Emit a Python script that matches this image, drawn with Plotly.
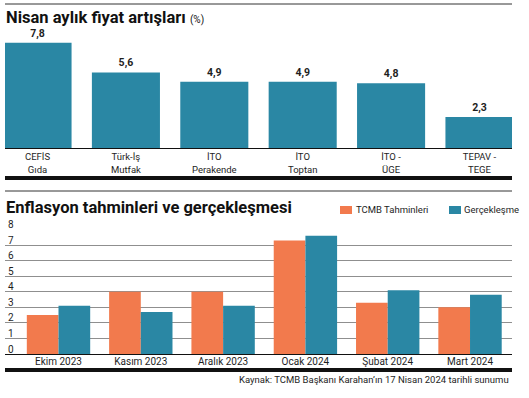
import plotly.graph_objects as go

# ---- data ----
top_categories = ["CEFİS<br>Gıda", "Türk-İş<br>Mutfak", "İTO<br>Perakende", "İTO<br>Toptan", "İTO -<br>ÜGE", "TEPAV -<br>TEGE"]
top_values = [7.8, 5.6, 4.9, 4.9, 4.8, 2.3]
top_labels = ["7,8", "5,6", "4,9", "4,9", "4,8", "2,3"]

months = ["Ekim 2023", "Kasım 2023", "Aralık 2023", "Ocak 2024", "Şubat 2024", "Mart 2024"]
tcmb_forecast = [2.5, 4.0, 4.0, 7.3, 3.3, 3.0]
realized = [3.1, 2.7, 3.1, 7.6, 4.1, 3.8]
y_ticks = [0, 1, 2, 3, 4, 5, 6, 7, 8]

# ---- styles ----
W, H = 529, 398
TEAL = "#2a87a4"
ORANGE = "#f27a4d"
FONT = "Roboto, Noto Sans, sans-serif"
TXT = "#1e1e1e"

def px_x(p):
    return p / W

def px_y(p):
    return 1 - p / H

fig = go.Figure()

fig.add_trace(go.Bar(
    x=top_categories, y=top_values, text=top_labels, textposition="outside",
    textfont=dict(family=FONT, size=10.5, color=TXT, weight="bold"), constraintext="none",
    cliponaxis=False, marker=dict(color=TEAL, line=dict(width=0)),
    xaxis="x", yaxis="y", showlegend=False, hoverinfo="skip",
))

fig.add_trace(go.Bar(
    x=months, y=tcmb_forecast, name="TCMB Tahminleri",
    marker=dict(color=ORANGE, line=dict(width=0)),
    xaxis="x2", yaxis="y2", showlegend=False,
))
fig.add_trace(go.Bar(
    x=months, y=realized, name="Gerçekleşme",
    marker=dict(color=TEAL, line=dict(width=0)),
    xaxis="x2", yaxis="y2", showlegend=False,
))

fig.update_layout(
    width=W, height=H, autosize=False,
    margin=dict(l=0, r=0, t=0, b=0, autoexpand=False),
    paper_bgcolor="white", plot_bgcolor="white",
    barmode="group", bargap=0.23, bargroupgap=0,
    font=dict(family=FONT, color=TXT),
    xaxis=dict(domain=[px_x(5), px_x(512)], range=[-0.368, 5.368], anchor="y",
               showline=True, linecolor="#111", linewidth=1, ticks="",
               tickfont=dict(family=FONT, size=9.5, color=TXT), showgrid=False,
               automargin=False, fixedrange=True),
    yaxis=dict(domain=[px_y(148), px_y(40)], range=[0, 8], anchor="x",
               visible=False, automargin=False, fixedrange=True),
    xaxis2=dict(domain=[px_x(5), px_x(512)], range=[-0.65, 5.51], anchor="y2",
                showline=False, ticks="", showgrid=False, automargin=False,
                tickfont=dict(family=FONT, size=10, color=TXT), fixedrange=True),
    yaxis2=dict(domain=[px_y(354), px_y(229.5)], range=[0, 8], anchor="x2",
                tickvals=y_ticks, ticktext=[str(v) for v in y_ticks],
                showgrid=True, gridcolor="#8f8f8f", gridwidth=1,
                zeroline=True, zerolinecolor="#111", zerolinewidth=1,
                showline=False, ticks="", ticklabelposition="inside",
                ticklabeloverflow="allow", automargin=False,
                ticklabelshift=-5, ticklabelstandoff=0,
                tickfont=dict(family=FONT, size=10, color=TXT), fixedrange=True),
)

shapes = [
    dict(type="line", xref="paper", yref="paper", x0=px_x(5), x1=px_x(512),
         y0=px_y(4), y1=px_y(4), line=dict(color="#333", width=1)),
    dict(type="line", xref="paper", yref="paper", x0=px_x(5), x1=px_x(512),
         y0=px_y(178), y1=px_y(178), line=dict(color="#111", width=4)),
    dict(type="line", xref="paper", yref="paper", x0=px_x(5), x1=px_x(512),
         y0=px_y(191), y1=px_y(191), line=dict(color="#333", width=1)),
    dict(type="line", xref="paper", yref="paper", x0=px_x(5), x1=px_x(512),
         y0=px_y(370), y1=px_y(370), line=dict(color="#111", width=4)),
    # custom legend swatches
    dict(type="rect", xref="paper", yref="paper", x0=px_x(340), x1=px_x(352),
         y0=px_y(214), y1=px_y(206), fillcolor=ORANGE, line=dict(width=0)),
    dict(type="rect", xref="paper", yref="paper", x0=px_x(449), x1=px_x(461),
         y0=px_y(214), y1=px_y(206), fillcolor=TEAL, line=dict(width=0)),
]
fig.update_layout(shapes=shapes)

annotations = [
    dict(text="<b>Nisan aylık fiyat artışları</b> <span style='font-size:10px'>(%)</span>",
         x=px_x(4), y=px_y(18), xref="paper", yref="paper", xanchor="left", yanchor="middle",
         showarrow=False, font=dict(family=FONT, size=16.5, color="#111")),
    dict(text="<b>Enflasyon tahminleri ve gerçekleşmesi</b>",
         x=px_x(4), y=px_y(207.5), xref="paper", yref="paper", xanchor="left", yanchor="middle",
         showarrow=False, font=dict(family=FONT, size=16.5, color="#111")),
    dict(text="TCMB Tahminleri", x=px_x(354), y=px_y(210), xref="paper", yref="paper",
         xanchor="left", yanchor="middle", showarrow=False,
         font=dict(family=FONT, size=9.5, color=TXT)),
    dict(text="Gerçekleşme", x=px_x(462), y=px_y(210), xref="paper", yref="paper",
         xanchor="left", yanchor="middle", showarrow=False,
         font=dict(family=FONT, size=9.5, color=TXT)),
    dict(text="Kaynak: TCMB Başkanı Karahan’ın 17 Nisan 2024 tarihli sunumu",
         x=px_x(511), y=px_y(379), xref="paper", yref="paper", xanchor="right", yanchor="middle",
         showarrow=False, font=dict(family=FONT, size=9.5, color=TXT)),
]
fig.update_layout(annotations=annotations)

fig.write_html("out.html", config={"displayModeBar": False},
               post_script="document.body.style.margin='0';")
